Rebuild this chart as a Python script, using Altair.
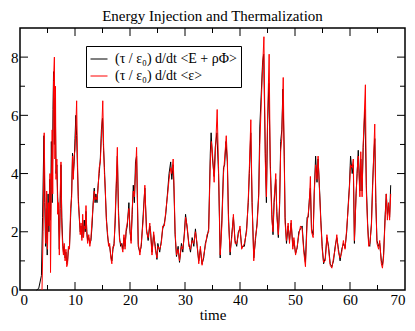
import altair as alt
import pandas as pd

label_black = "(τ / ε₀) d/dt <E + ρΦ>"
label_red = "(τ / ε₀) d/dt <ε>"

# black series: (time, value)
black_t = [3.0, 3.4, 3.9, 4.1, 4.35, 4.5, 4.65, 4.8, 4.95, 5.1, 5.25, 5.4, 5.55, 5.7, 5.85, 6.0, 6.1, 6.25, 6.4, 6.55,
           6.7, 6.85, 7.0, 7.15, 7.3, 7.45, 7.6, 7.75, 7.9, 8.05, 8.2, 8.35, 8.5, 8.65, 8.8, 9.0, 9.2, 9.4, 9.55, 9.7,
           9.85, 10.0, 10.15, 10.3, 10.45, 10.6, 10.8, 10.95, 11.1, 11.25, 11.4, 11.55, 11.7, 11.85, 12.0, 12.15, 12.3,
           12.5, 12.7, 12.9, 13.1, 13.3, 13.5, 13.65, 13.8, 14.0, 14.2, 14.4, 14.6, 14.8, 15.0, 15.2, 15.35, 15.5, 15.7,
           15.9, 16.1, 16.3, 16.5, 16.7, 16.9, 17.1, 17.3, 17.5, 17.7, 17.9, 18.1, 18.3, 18.5, 18.7, 18.9, 19.1, 19.3,
           19.5, 19.8, 20.0, 20.2, 20.4, 20.6, 20.8, 21.0, 21.2, 21.35, 21.5, 21.8, 22.05, 22.4, 22.7, 23.0, 23.3, 23.6,
           23.75, 24.0, 24.3, 24.6, 24.9, 25.06, 25.4, 25.7, 25.95, 26.25, 26.5, 26.85, 27.1, 27.4, 27.6, 27.85, 28.0,
           28.2, 28.45, 28.75, 29.0, 29.35, 29.6, 29.9, 30.1, 30.4, 30.7, 31.0, 31.3, 31.6, 31.9, 32.2, 32.5, 32.8,
           33.1, 33.4, 33.7, 34.0, 34.3,
           34.6, 34.75, 35.0, 35.3, 35.5, 35.8, 36.1, 36.4, 36.7, 37.0, 37.2, 37.45, 37.7, 37.9, 38.2, 38.5, 38.8,
           39.1, 39.4, 39.7, 40.0, 40.3, 40.8, 41.2, 41.5, 41.7, 41.95, 42.2, 42.5, 42.8, 43.1, 43.4, 43.6, 43.9, 44.1,
           44.3, 44.6, 44.8, 45.0, 45.25, 45.5, 45.8, 46.0, 46.2, 46.5, 46.7, 46.97, 47.2, 47.4, 47.6, 47.8, 48.05,
           48.2, 48.45, 48.75, 49.0, 49.3, 49.6, 49.8, 50.1, 50.4, 50.7, 51.0, 51.3, 51.6, 51.9, 52.2,
           52.4, 52.6, 52.8, 53.0, 53.3, 53.5, 53.75, 54.0, 54.2, 54.5, 54.7, 54.95, 55.2, 55.5, 55.8, 56.1, 56.4,
           56.7, 57.0, 57.3, 57.6, 57.9, 58.2, 58.5, 58.8, 59.1, 59.4, 59.7, 59.9, 60.1, 60.4, 60.6, 60.8, 61.1, 61.3,
           61.5, 61.8, 61.96, 62.2, 62.4, 62.7, 62.97, 63.2, 63.4, 63.6, 63.9, 64.1, 64.3, 64.5, 64.7, 64.9, 65.2,
           65.4, 65.7, 65.9, 66.1, 66.4, 66.6, 66.8, 67.0, 67.2, 67.4]
black_y = [0.0, 0.05, 0.5, 2.5, 5.3, 3.0, 1.5, 2.8, 1.2, 3.3, 2.0, 3.8, 2.4, 5.1, 3.0, 6.2, 7.5, 5.0, 6.6, 4.0,
           4.3, 3.2, 2.6, 1.4, 2.8, 4.3, 2.5, 1.7, 1.3, 1.5, 1.1, 1.3, 0.9, 1.0, 1.4, 1.5, 2.5, 3.4, 4.7, 4.0,
           4.4, 5.2, 6.0, 5.3, 4.2, 3.2, 2.4, 2.0, 2.2, 1.8, 2.4, 1.9, 2.4, 2.0, 2.7, 2.0, 1.7,
           1.8, 1.6, 1.7, 2.2, 3.0, 3.5, 3.0, 3.3, 3.0, 3.6, 4.0, 4.5, 5.5, 5.9, 4.8, 4.2, 3.4, 2.5,
           1.9, 1.6, 1.5, 1.2, 1.0, 1.4, 1.6, 2.3, 3.5, 4.6, 2.8, 1.8, 1.5, 1.6, 1.4, 1.8, 1.5, 2.0,
           2.2, 3.0, 2.0, 1.7, 2.6, 3.6, 3.0, 4.4, 4.6, 3.0, 1.5, 1.3, 1.5, 2.6, 3.5, 2.1, 1.7, 2.2,
           2.0, 1.3, 1.9, 1.5, 1.05, 1.6, 1.3, 1.7, 2.1, 2.3, 2.6, 3.4, 4.0, 4.4, 3.8, 4.3, 3.4,
           1.9, 1.15, 1.5, 0.95, 1.6, 1.3, 2.0, 2.6, 2.1, 1.6, 1.3, 1.8, 1.5, 2.1, 1.5, 1.0, 1.4,
           0.9, 1.1, 1.6, 1.8, 2.1,
           4.7, 5.4, 4.5, 3.9, 4.9, 5.4, 4.0, 1.1, 2.4, 4.2, 4.3, 5.1, 4.4, 2.6, 1.2, 1.9, 2.5,
           1.7, 1.5, 2.0, 2.1, 1.5, 1.5, 2.1, 3.0, 4.0, 5.4, 3.0, 1.1, 1.7, 2.3, 3.3, 5.6, 6.9, 7.8,
           8.1, 4.7, 3.0, 5.6, 7.1, 4.4, 2.6, 1.9, 3.0, 3.8, 2.7, 1.8, 2.9, 5.1, 5.5, 6.9, 4.6,
           2.5, 1.6, 2.2, 1.7, 2.3, 1.5, 1.7, 1.25, 1.45, 2.0, 2.1, 2.2, 1.4, 0.95, 2.5,
           2.5, 3.1, 3.5, 2.1, 1.9, 3.4, 4.6, 3.7, 4.5, 3.3, 2.4, 1.5, 0.9, 1.1, 1.8, 1.5, 0.9,
           0.8, 1.0, 1.5, 1.8, 1.4, 1.0, 1.4, 1.6, 1.45, 2.0, 3.0, 3.6, 4.6, 4.0, 4.3, 1.6, 3.3, 4.0,
           4.8, 3.4, 4.5, 3.4, 4.9, 6.2, 3.6, 2.3, 1.6, 1.5, 2.3, 3.6, 4.5, 5.2, 3.0, 1.7, 1.5,
           1.6, 1.0, 0.85, 1.2, 2.6, 3.3, 2.6, 2.9, 2.5, 3.6]

# red series: (time, value)
red_t = [4.0, 4.2, 4.4, 4.55, 4.7, 4.85, 5.0, 5.15, 5.3, 5.45, 5.55, 5.7, 5.85, 5.95, 6.1, 6.25, 6.35, 6.45, 6.55,
         6.7, 6.85, 7.0, 7.15, 7.3, 7.45, 7.6, 7.75, 7.9, 8.05, 8.2, 8.35, 8.5, 8.65, 8.8, 9.0, 9.2, 9.4, 9.55, 9.7,
         9.85, 10.0, 10.15, 10.3, 10.45, 10.6, 10.8, 10.95, 11.1, 11.25, 11.4, 11.55, 11.7, 11.85, 12.0, 12.15, 12.3,
         12.5, 12.7, 12.9, 13.1, 13.3, 13.5, 13.65, 13.8, 14.0, 14.2, 14.4, 14.6, 14.8, 15.05, 15.2, 15.35, 15.5,
         15.7, 15.9, 16.1, 16.3, 16.5, 16.7, 16.9, 17.1, 17.3, 17.5, 17.7, 17.9, 18.1, 18.3, 18.5, 18.7, 18.9, 19.1,
         19.3, 19.5, 19.8, 20.0, 20.2, 20.4, 20.6, 20.8, 21.0, 21.2, 21.35, 21.5, 21.8, 22.05, 22.4, 22.7, 23.0,
         23.3, 23.6, 23.75, 24.0, 24.3, 24.6, 24.9, 25.06, 25.4, 25.7, 25.95, 26.25, 26.5, 26.85, 27.1, 27.4, 27.6,
         27.85, 28.0, 28.2, 28.45, 28.75, 29.0, 29.35, 29.6, 29.9, 30.1, 30.4, 30.7, 31.0, 31.3, 31.6, 31.9, 32.2,
         32.5, 32.8, 33.1, 33.4, 33.7, 34.0, 34.3,
         34.6, 34.8, 35.0, 35.3, 35.5, 35.85, 36.1, 36.4, 36.7, 37.0, 37.2, 37.5, 37.7, 37.9, 38.2, 38.5, 38.8,
         39.1, 39.4, 39.7, 40.0, 40.3, 40.8, 41.2, 41.5, 41.7, 41.97, 42.2, 42.5, 42.8, 43.1, 43.4, 43.6, 43.9,
         44.1, 44.35, 44.6, 44.8, 45.0, 45.3, 45.5, 45.8, 46.0, 46.2, 46.5, 46.7, 46.97, 47.2, 47.4, 47.6, 47.86,
         48.05, 48.2, 48.45, 48.75, 49.0, 49.3, 49.6, 49.8, 50.1, 50.4, 50.7, 51.0, 51.3, 51.6, 51.9, 52.2,
         52.4, 52.6, 52.8, 53.0, 53.3, 53.5, 53.75, 54.0, 54.2, 54.5, 54.7, 54.95, 55.2, 55.5, 55.8, 56.1, 56.4,
         56.7, 57.0, 57.3, 57.6, 57.9, 58.2, 58.5, 58.8, 59.1, 59.4, 59.7, 59.9, 60.1, 60.4, 60.6, 60.8, 61.1,
         61.3, 61.5, 61.8, 61.96, 62.2, 62.4, 62.8, 62.97, 63.2, 63.4, 63.6, 63.9, 64.1, 64.3, 64.5, 64.7, 64.9,
         65.2, 65.4, 65.7, 65.9, 66.1, 66.4, 66.6, 66.8, 67.0, 67.2, 67.4]
red_y = [0.0, 2.0, 5.4, 3.2, 1.6, 3.4, 1.4, 3.0, 2.2, 4.0, 0.6, 3.5, 5.5, 3.3, 7.2, 8.0, 4.5, 7.0, 3.8,
         4.5, 2.6, 3.0, 1.2, 3.2, 4.4, 2.2, 1.5, 1.2, 1.6, 1.0, 1.4, 0.8, 0.9, 1.5, 1.4, 2.8, 3.2, 4.6, 3.8,
         4.6, 4.8, 5.6, 6.5, 4.5, 3.0, 2.5, 1.9, 2.3, 1.7, 2.6, 1.8, 2.2, 2.1, 2.9, 1.9, 1.6,
         1.9, 1.5, 1.8, 2.4, 2.9, 3.4, 3.1, 3.2, 3.1, 3.5, 4.2, 4.4, 5.2, 6.5, 5.0, 4.0, 3.5,
         2.4, 2.0, 1.5, 1.6, 1.1, 0.9, 1.5, 1.5, 2.5, 3.7, 4.9, 2.6, 1.7, 1.6, 1.5, 1.3, 1.9, 1.4,
         2.1, 2.3, 2.8, 2.1, 1.6, 2.8, 3.4, 3.2, 4.0, 4.9, 3.2, 1.6, 1.2, 1.6, 2.4, 3.6, 2.0,
         1.8, 2.3, 1.9, 1.2, 2.0, 1.4, 1.1, 1.5, 1.4, 1.6, 2.2, 2.2, 2.7, 3.3, 3.8, 4.2, 4.0,
         4.5, 3.6, 2.0, 1.2, 1.4, 1.0, 1.5, 1.4, 1.9, 2.5, 2.2, 1.5, 1.4, 1.7, 1.6, 2.0, 1.6,
         0.9, 1.5, 0.85, 1.2, 1.5, 1.9, 2.0,
         4.4, 5.1, 4.7, 3.7, 4.6, 6.2, 4.2, 1.2, 2.2, 4.0, 4.5, 5.3, 4.5, 2.4, 1.3, 1.8, 2.6,
         1.6, 1.6, 1.9, 2.2, 1.4, 1.6, 2.0, 3.1, 4.2, 5.85, 3.0, 1.0, 1.8, 2.2, 3.2, 5.0, 6.6,
         7.6, 8.7, 4.4, 3.2, 5.8, 8.1, 4.2, 2.4, 2.0, 3.1, 4.0, 2.5, 1.9, 3.0, 4.8, 5.2, 7.3,
         4.4, 2.3, 1.7, 2.3, 1.6, 2.4, 1.4, 1.8, 1.2, 1.5, 1.9, 2.2, 2.1, 1.3, 0.8, 2.3,
         2.6, 3.0, 3.9, 2.0, 1.8, 3.3, 4.3, 3.8, 4.6, 3.2, 2.3, 1.4, 0.95, 1.0, 1.9, 1.4, 0.85,
         0.75, 1.1, 1.4, 1.9, 1.3, 1.1, 1.3, 1.7, 1.4, 2.1, 2.9, 3.5, 4.3, 4.2, 4.5, 1.7, 3.2,
         4.1, 4.6, 3.2, 4.75, 3.2, 5.0, 7.05, 3.4, 2.2, 1.5, 1.6, 2.2, 3.4, 4.6, 5.7, 3.0, 1.6,
         1.4, 1.7, 0.9, 0.75, 1.1, 2.5, 3.3, 2.4, 3.0, 2.4, 3.3]

x_labels = [0, 10, 20, 30, 40, 50, 60, 70]
y_labels = [0, 2, 4, 6, 8]
x_major = [10, 20, 30, 40, 50, 60]
x_minor = [5, 15, 25, 35, 45, 55, 65]
y_major = [2, 4, 6, 8]
y_minor = [1, 3, 5, 7]

W, H = 385, 262
FONT = "Liberation Serif, Times New Roman, Times, serif"

df_black = pd.DataFrame({"t": black_t, "y": black_y, "series": label_black})
df_red = pd.DataFrame({"t": red_t, "y": red_y, "series": label_red})

x_scale = alt.Scale(domain=[0, 70], nice=False, zero=False)
y_scale = alt.Scale(domain=[0, 9], nice=False)
x_axis = alt.Axis(values=x_labels, title="time", format="d")
y_axis = alt.Axis(values=y_labels, title=None, format="d")

color = alt.Color(
    "series:N",
    scale=alt.Scale(domain=[label_black, label_red], range=["black", "#ff0000"]),
    legend=alt.Legend(
        orient="none", legendX=66, legendY=18, title=None,
        strokeColor="black", fillColor="white", padding=4,
        symbolType="stroke", symbolSize=289, symbolStrokeWidth=1,
        labelFont=FONT, labelFontSize=14, labelColor="black", labelOffset=7,
        rowPadding=1, labelLimit=400,
    ),
)

black_line = alt.Chart(df_black).mark_line(strokeWidth=1).encode(
    x=alt.X("t:Q", scale=x_scale, axis=x_axis),
    y=alt.Y("y:Q", scale=y_scale, axis=y_axis),
    color=color,
)
red_line = alt.Chart(df_red).mark_line(strokeWidth=1).encode(
    x=alt.X("t:Q", scale=x_scale, axis=x_axis),
    y=alt.Y("y:Q", scale=y_scale, axis=y_axis),
    color=color,
)


def xticks(vals, length):
    d = pd.DataFrame({"t": vals})
    bottom = alt.Chart(d).mark_rule(color="black", strokeWidth=1).encode(
        x=alt.X("t:Q", scale=x_scale, axis=x_axis), y=alt.value(H), y2=alt.value(H - length))
    top = alt.Chart(d).mark_rule(color="black", strokeWidth=1).encode(
        x=alt.X("t:Q", scale=x_scale, axis=x_axis), y=alt.value(0), y2=alt.value(length))
    return [bottom, top]


def yticks(vals, length):
    d = pd.DataFrame({"y": vals})
    left = alt.Chart(d).mark_rule(color="black", strokeWidth=1).encode(
        y=alt.Y("y:Q", scale=y_scale, axis=y_axis), x=alt.value(0), x2=alt.value(length))
    right = alt.Chart(d).mark_rule(color="black", strokeWidth=1).encode(
        y=alt.Y("y:Q", scale=y_scale, axis=y_axis), x=alt.value(W), x2=alt.value(W - length))
    return [left, right]


layers = [black_line, red_line] + xticks(x_major, 8) + xticks(x_minor, 5) + yticks(y_major, 8) + yticks(y_minor, 5)

chart = alt.layer(*layers).properties(
    width=W, height=H,
    title=alt.TitleParams("Energy Injection and Thermalization", font=FONT, fontSize=15,
                          fontWeight="normal", color="black", offset=4),
    autosize=alt.AutoSizeParams(type="none"),
    padding={"left": 12, "top": 20, "right": 2, "bottom": 33},
).configure_view(
    stroke="black", strokeWidth=1.5
).configure_axis(
    labelFont=FONT, labelFontSize=15, labelColor="black",
    titleFont=FONT, titleFontSize=15, titleFontWeight="normal", titleColor="black",
    ticks=False, domain=False, grid=False, labelPadding=2, titlePadding=0,
)

chart.save("out.html", embed_options={"renderer": "svg", "actions": False})
